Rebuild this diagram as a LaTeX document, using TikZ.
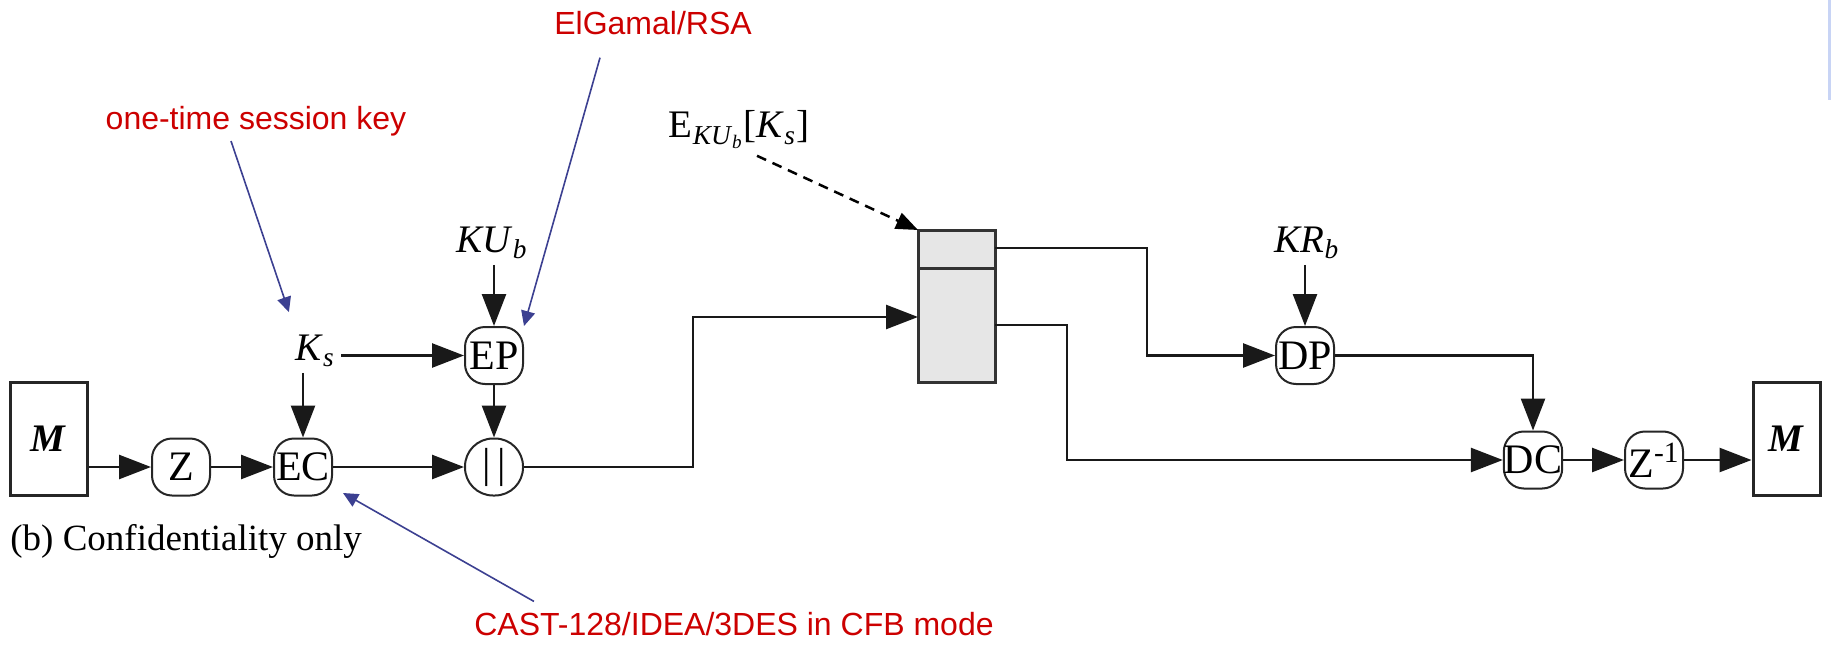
\documentclass[tikz,border=0pt]{standalone}
\usepackage{fontspec}
\setmainfont{Liberation Serif}
\newfontfamily\notefont{Liberation Sans}
\usetikzlibrary{arrows.meta}

\definecolor{noteRed}{RGB}{204,0,0}
\definecolor{noteBlue}{RGB}{60,64,145}
\definecolor{packetGray}{RGB}{230,230,230}
\definecolor{edgeBlue}{RGB}{200,212,245}

\begin{document}
\begin{tikzpicture}[
    x=0.5pt, y=-0.5pt,
    font=\fontsize{19.5}{22}\selectfont,
    >={Triangle[length=16pt,width=12pt]},
    % Styles
    op/.style={rectangle, draw=black!85, line width=1pt, rounded corners=10pt, minimum width=29pt, minimum height=28.5pt, inner sep=0pt, font=\fontsize{21}{24}\selectfont},
    msgbox/.style={rectangle, draw=black!85, line width=1.5pt, minimum height=56.5pt, inner sep=0pt},
    packet/.style={rectangle, draw=black!80, fill=packetGray, line width=1.5pt, minimum width=38.5pt, minimum height=76pt, inner sep=0pt, outer sep=0pt},
    keylabel/.style={inner sep=3pt},
    note/.style={text=noteRed, font=\notefont\fontsize{16}{19}\selectfont, inner sep=2pt},
    arrow/.style={->, line width=1.3pt, draw=black!90},
    notearrow/.style={-{Triangle[length=7.5pt,width=7pt]}, line width=0.8pt, draw=noteBlue},
    dasharrow/.style={-{Triangle[length=11pt,width=8.5pt]}, line width=1.25pt, dash pattern=on 5pt off 3.5pt}
]
\useasboundingbox (0,0) rectangle (1835,647);

% --- Sender side ---
\node[msgbox, minimum width=38.5pt] (msg) at (48.5,438.5) {\textbf{\textit{M}}};
\node[op] (zip) at (181,467) {Z};
\node[op] (ec) at (303,467) {EC};
\node[op, rounded corners=14pt] (concat) at (494,467) {\textbar\,\textbar};
\node[op] (ep) at (494,355.5) {EP};
\node[keylabel, anchor=base] (ks) at (315,360) {\textit{K}\textsubscript{\textit{s}}};
\node[keylabel, anchor=base] (kub) at (492,252) {\textit{KU}\textsubscript{\textit{b}}};
\node[anchor=base west, inner sep=0pt, font=\fontsize{18.5}{22}\selectfont] (caption) at (10,550) {(b) Confidentiality only};

% --- Transmitted packet ---
\node[anchor=base] (ekey) at (739,138) {E\textsubscript{\textit{KU}\textsubscript{\textit{b}}}[\textit{K}\textsubscript{\textit{s}}]};
\node[packet] (pkt) at (956.5,306) {};
\draw[line width=1.5pt, draw=black!80] ([yshift=-19pt]pkt.north west) -- ([yshift=-19pt]pkt.north east);
\coordinate (pin) at ([yshift=-5.5pt]pkt.west);
\coordinate (pout1) at ([yshift=29pt]pkt.east);
\coordinate (pout2) at ([yshift=-9.5pt]pkt.east);

% --- Receiver side ---
\node[op] (dp) at (1305,355.5) {DP};
\node[keylabel, anchor=base] (krb) at (1307,252) {\textit{KR}\textsubscript{\textit{b}}};
\node[op] (dc) at (1533,460) {DC};
\node[op] (unzip) at (1654,460) {Z\textsuperscript{-1}};
\node[msgbox, minimum width=33.5pt] (msgout) at (1786.5,439) {\textbf{\textit{M}}};

% --- Annotations ---
\node[note, anchor=base] (sessnote) at (256,130) {one-time session key};
\node[note, anchor=base] (pknote) at (653,35) {ElGamal/RSA};
\node[note, anchor=base] (symnote) at (734,635) {CAST-128/IDEA/3DES in CFB mode};

% --- Connections ---
% Sender flow
\draw[arrow] (msg.east |- zip) -- (zip);
\draw[arrow] (zip) -- (ec);
\draw[arrow] (ec) -- (concat);
\draw[arrow] (ks.east |- ep) -- (ep);
\draw[arrow] (ks.south -| ec) -- (ec);
\draw[arrow] (kub.south -| ep) -- (ep);
\draw[arrow] (ep) -- (concat);
\draw[arrow] (concat) -- ++(199,0) |- (pin);
\draw[dasharrow] ([xshift=9pt]ekey.south) -- (pkt.north west);

% Receiver flow
\draw[arrow] (pout1) -- ++(152,0) |- (dp);
\draw[arrow] (pout2) -- ++(72,0) |- (dc);
\draw[arrow] (krb.south -| dp) -- (dp);
\draw[arrow] (dp) -| (dc);
\draw[arrow] (dc) -- (unzip);
\draw[arrow] (unzip) -- (msgout.west |- unzip);

% Annotation pointers
\draw[notearrow] ([xshift=-12.5pt]sessnote.south) -- ([yshift=8pt]ks.north west);
\draw[notearrow] ([xshift=-26.5pt,yshift=-9pt]pknote.south) -- (ep.north east);
\draw[notearrow] ([xshift=32pt,yshift=3pt]symnote.north west) -- ([xshift=5pt,yshift=1.75pt]ec.south east);

% slide edge
\draw[edgeBlue, line width=1.5pt] (1829,0) -- (1829,100);

\end{tikzpicture}
\end{document}
